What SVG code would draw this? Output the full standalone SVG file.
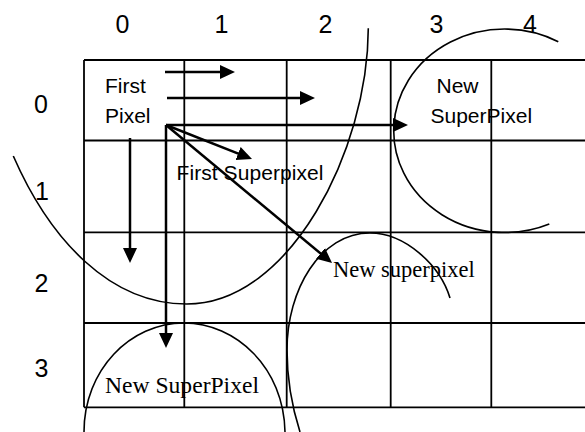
<svg xmlns="http://www.w3.org/2000/svg" width="585" height="432" viewBox="0 0 585 432">
<style>
.grid{stroke:#000;stroke-width:1.8;fill:none}
.curve{stroke:#000;stroke-width:1.6;fill:none}
.arr{stroke:#000;stroke-width:2.5;fill:none;marker-end:url(#ah)}
.sans{font-family:"Liberation Sans",Arial,sans-serif;fill:#000}
.serif{font-family:"Liberation Serif","Times New Roman",serif;fill:#000}
.idx{font-size:25px;text-anchor:middle}
.lbl{font-size:21px}
</style>
<defs>
<marker id="ah" markerUnits="userSpaceOnUse" markerWidth="16" markerHeight="15" refX="7" refY="7" orient="auto" viewBox="0 0 16 15">
<path d="M0,0 L15,7 L0,14 Z" fill="#000"/>
</marker>
</defs>
<rect width="585" height="432" fill="#fff"/>
<g id="grid" class="grid">
<line x1="84" y1="60" x2="585" y2="60"/>
<line x1="84" y1="140.5" x2="585" y2="140.5"/>
<line x1="84" y1="232.3" x2="585" y2="232.3"/>
<line x1="84" y1="323" x2="585" y2="323"/>
<line x1="84" y1="407.3" x2="585" y2="407.3"/>
<line x1="84" y1="60" x2="84" y2="407.3"/>
<line x1="184.3" y1="60" x2="184.3" y2="407.3"/>
<line x1="286.7" y1="60" x2="286.7" y2="407.3"/>
<line x1="390.7" y1="60" x2="390.7" y2="407.3"/>
<line x1="491.3" y1="60" x2="491.3" y2="407.3"/>
</g>
<g id="col-labels" class="sans idx">
<text x="122.5" y="33">0</text>
<text x="221.5" y="33">1</text>
<text x="325.5" y="33">2</text>
<text x="436.5" y="33">3</text>
<text x="530" y="33">4</text>
</g>
<g id="row-labels" class="sans idx">
<text x="41" y="112.5">0</text>
<text x="42" y="200">1</text>
<text x="41.5" y="291.5">2</text>
<text x="41.5" y="376.5">3</text>
</g>
<g id="first-pixel">
<text class="sans lbl" x="105" y="93">First</text>
<text class="sans lbl" x="105" y="123">Pixel</text>
</g>
<g id="first-superpixel">
<path class="curve" d="M13.3,156 C50,240 110,304 186.7,304 C290,304 368,150 368.3,28.3"/>
<text class="sans lbl" x="176.5" y="180" textLength="147" lengthAdjust="spacing">First Superpixel</text>
</g>
<g id="new-superpixel-right">
<path class="curve" d="M558.3,41.7 A111 101.75 0 1 0 549.3,224"/>
<text class="sans lbl" x="436.5" y="93">New</text>
<text class="sans lbl" x="430.5" y="123">SuperPixel</text>
</g>
<g id="new-superpixel-middle">
<path class="curve" d="M300,432 C293,410 287,380 287,350 C287,290 320,233 370,233 C405,233 440,265 450,298"/>
<text class="serif" x="333" y="277" font-size="22.5">New superpixel</text>
</g>
<g id="new-superpixel-bottom">
<path class="curve" d="M84,432 C84,370 130,323 184,323 C236,323 284,368 285,432"/>
<text class="serif" x="105" y="393" font-size="23" textLength="154" lengthAdjust="spacingAndGlyphs">New SuperPixel</text>
</g>
<g id="connectors">
<line class="arr" x1="165" y1="72" x2="227" y2="72"/>
<line class="arr" x1="167" y1="98" x2="307" y2="98"/>
<line class="arr" x1="166" y1="125" x2="400" y2="125"/>
<line class="arr" x1="166" y1="125" x2="166" y2="340"/>
<line class="arr" x1="166" y1="125" x2="244.6" y2="156.1"/>
<line class="arr" x1="166" y1="125" x2="325.9" y2="257.9"/>
<line class="arr" x1="130" y1="138" x2="130" y2="255"/>
</g>
</svg>
